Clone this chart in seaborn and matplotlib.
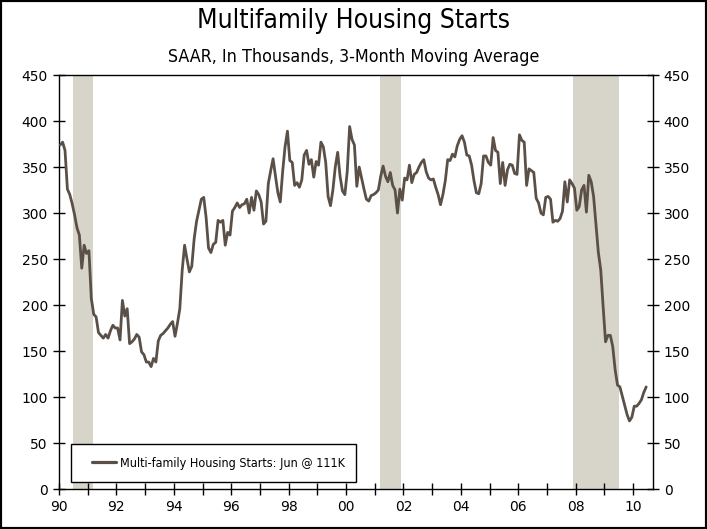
import numpy as np
import pandas as pd
import seaborn as sns
import matplotlib.pyplot as plt
from matplotlib.patches import Rectangle
from matplotlib.ticker import MultipleLocator

sns.set_theme(style='white')
plt.rcParams['font.family'] = ['DejaVu Sans']
plt.rcParams['text.color'] = 'black'
plt.rcParams['xtick.color'] = 'black'
plt.rcParams['ytick.color'] = 'black'

# monthly multifamily starts, SAAR thousands, 3-mo avg, Jan 1990 .. Jun 2010
starts_1990s = [
    374, 377, 368, 326, 320, 310, 298, 284, 276, 240, 265, 256,   # 1990
    259, 207, 190, 187, 170, 167, 164, 168, 164, 172, 178, 175,   # 1991
    175, 162, 205, 188, 196, 158, 160, 163, 168, 165, 149, 146,   # 1992
    138, 138, 133, 142, 138, 161, 167, 169, 172, 175, 179, 182,   # 1993
    166, 180, 196, 238, 265, 250, 236, 242, 272, 291, 303, 315,   # 1994
    317, 295, 262, 257, 266, 268, 292, 290, 292, 265, 279, 276,   # 1995
    302, 306, 311, 306, 309, 310, 315, 300, 317, 303, 324, 320,   # 1996
    312, 288, 291, 332, 346, 359, 340, 322, 312, 345, 372, 389,   # 1997
    357, 355, 330, 333, 328, 336, 363, 368, 353, 358, 339, 356,   # 1998
    352, 377, 372, 355, 318, 308, 325, 350, 366, 340, 324, 320,   # 1999
]
starts_2000s = [
    345, 394, 380, 374, 329, 350, 338, 326, 315, 313, 319, 320,   # 2000
    322, 325, 340, 351, 340, 334, 344, 330, 325, 300, 326, 314,   # 2001
    338, 336, 352, 333, 342, 344, 350, 355, 358, 345, 338, 336,   # 2002
    337, 328, 320, 309, 320, 335, 358, 357, 364, 361, 373, 380,   # 2003
    384, 377, 363, 362, 352, 335, 322, 321, 332, 362, 362, 355,   # 2004
    352, 382, 368, 366, 332, 355, 330, 347, 353, 352, 343, 342,   # 2005
    385, 379, 377, 330, 348, 346, 344, 316, 311, 300, 298, 317,   # 2006
    318, 315, 290, 292, 291, 294, 302, 334, 312, 336, 332, 327,   # 2007
    303, 307, 325, 330, 301, 341, 334, 318, 288, 257, 238, 198,   # 2008
    160, 167, 167, 155, 130, 113, 111, 101, 91, 81, 74, 78,       # 2009
    90, 90, 93, 97, 105, 111,                                     # 2010
]
starts = starts_1990s + starts_2000s

recession_start = [1990.5, 2001.17, 2007.92]
recession_end = [1991.17, 2001.92, 2009.5]

year_ticks = list(range(1990, 2011, 2))
year_labels = [f'{y % 100:02d}' for y in year_ticks]
value_ticks = list(range(0, 451, 50))

dates = pd.date_range('1990-01-01', periods=len(starts), freq='MS')
df = pd.DataFrame({
    'year': dates.year + (dates.month - 0.5) / 12,
    'starts': starts,
})

line_color = '#5b5047'
band_color = '#d7d4c9'

fig = plt.figure(figsize=(7.07, 5.29), dpi=100)
ax = fig.add_axes([0.0835, 0.0756, 0.8395, 0.7826])

for a, b in zip(recession_start, recession_end):
    ax.axvspan(a, b, color=band_color, lw=0, zorder=0)

sns.lineplot(data=df, x='year', y='starts', color=line_color, lw=2,
             ax=ax, label='Multi-family Housing Starts: Jun @ 111K', zorder=3)

ax.set_xlim(1990, 2010.68)
ax.set_ylim(0, 450)
ax.set_xticks(year_ticks)
ax.set_xticklabels(year_labels)
ax.xaxis.set_minor_locator(MultipleLocator(1))
ax.set_yticks(value_ticks)
ax.set_xlabel('')
ax.set_ylabel('')

ax.tick_params(axis='x', which='both', direction='inout', length=8, width=1,
               color='black', labelsize=10, pad=4, bottom=True)
ax.tick_params(axis='y', which='both', direction='inout', length=8, width=1,
               color='black', labelsize=10, left=True, right=True,
               labelleft=True, labelright=True, pad=4)
for s in ax.spines.values():
    s.set_color('black')
    s.set_linewidth(1)

# legend: white box drawn separately so the padding matches the original
ax.add_patch(Rectangle((0.0197, 0.0169), 0.48, 0.0918, transform=ax.transAxes,
                       facecolor='white', edgecolor='black', lw=1, zorder=4))
leg = ax.legend(loc='center left', bbox_to_anchor=(0.0556, 0.0628), frameon=False,
                handlelength=1.9, handletextpad=0.3, borderpad=0, borderaxespad=0,
                prop={'family': 'DejaVu Sans', 'stretch': 'condensed', 'size': 9.0})
leg.set_zorder(5)
for h in leg.get_lines():
    h.set_linewidth(2.3)

fig.text(0.5, 1 - 21 / 529, 'Multifamily Housing Starts', ha='center', va='center',
         fontsize=19, family='DejaVu Sans', fontstretch='condensed')
fig.text(0.5, 1 - 57 / 529, 'SAAR, In Thousands, 3-Month Moving Average', ha='center',
         va='center', fontsize=12.8, family='DejaVu Sans', fontstretch='condensed')

fig.patches.append(Rectangle((0, 0), 1, 1, transform=fig.transFigure, fill=False,
                             edgecolor='black', linewidth=3, zorder=10))

fig.savefig('out.png', dpi=100)
